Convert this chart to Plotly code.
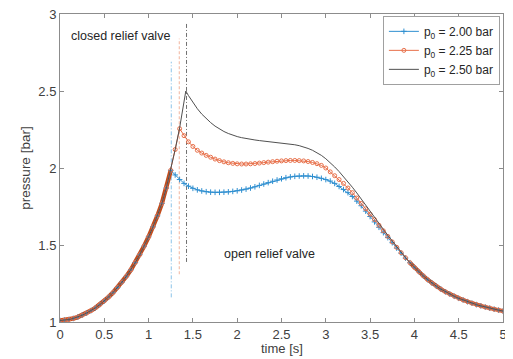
import plotly.graph_objects as go

# ---- data ----
t_rise = [0.00, 0.05, 0.10, 0.15, 0.20, 0.25, 0.30, 0.35, 0.40, 0.45, 0.50, 0.55, 0.60,
          0.65, 0.70, 0.75, 0.80, 0.85, 0.90, 0.95, 1.00, 1.05, 1.10, 1.15, 1.20, 1.25]
p_rise = [1.010, 1.012, 1.016, 1.023, 1.032, 1.044, 1.058, 1.074, 1.092, 1.113, 1.137, 1.163, 1.192,
          1.224, 1.259, 1.297, 1.339, 1.386, 1.437, 1.493, 1.553, 1.618, 1.690, 1.770, 1.870, 1.985]

t_branch = [1.30, 1.35, 1.40, 1.45, 1.50, 1.55, 1.60, 1.65, 1.70, 1.75, 1.80, 1.85, 1.90, 1.95,
            2.00, 2.05, 2.10, 2.15, 2.20, 2.25, 2.30, 2.35, 2.40, 2.45, 2.50, 2.55, 2.60, 2.65,
            2.70, 2.75, 2.80, 2.85, 2.90, 2.95, 3.00, 3.05, 3.10, 3.15, 3.20, 3.25, 3.30, 3.35,
            3.40, 3.45, 3.50, 3.55, 3.60, 3.65, 3.70, 3.75, 3.80, 3.85, 3.90]

p_blue = [1.955, 1.925, 1.900, 1.882, 1.868, 1.858, 1.851, 1.846, 1.843, 1.842, 1.842, 1.843, 1.845, 1.848,
          1.852, 1.857, 1.863, 1.870, 1.878, 1.887, 1.896, 1.905, 1.914, 1.922, 1.930, 1.937, 1.942, 1.946,
          1.948, 1.949, 1.948, 1.945, 1.940, 1.933, 1.925, 1.915, 1.900, 1.880, 1.860, 1.840, 1.815, 1.785,
          1.755, 1.720, 1.685, 1.650, 1.615, 1.580, 1.548, 1.515, 1.480, 1.447, 1.415]

p_orange = [2.120, 2.255, 2.210, 2.170, 2.140, 2.115, 2.097, 2.082, 2.070, 2.058, 2.048, 2.040, 2.034, 2.030,
            2.027, 2.026, 2.026, 2.027, 2.029, 2.032, 2.035, 2.038, 2.041, 2.044, 2.046, 2.048, 2.049, 2.049,
            2.048, 2.046, 2.042, 2.036, 2.028, 2.017, 2.000, 1.975, 1.950, 1.925, 1.900, 1.870, 1.840, 1.805,
            1.770, 1.735, 1.700, 1.665, 1.628, 1.592, 1.556, 1.520, 1.485, 1.450, 1.417]

t_black = [1.30, 1.35, 1.40, 1.42, 1.45, 1.50, 1.55, 1.60, 1.65, 1.70, 1.75, 1.80, 1.85, 1.90, 1.95,
           2.00, 2.05, 2.10, 2.15, 2.20, 2.25, 2.30, 2.35, 2.40, 2.45, 2.50, 2.55, 2.60, 2.65,
           2.70, 2.75, 2.80, 2.85, 2.90, 2.95, 3.00, 3.05, 3.10, 3.15, 3.20, 3.25, 3.30, 3.35,
           3.40, 3.45, 3.50, 3.55, 3.60, 3.65, 3.70, 3.75, 3.80, 3.85, 3.90]
p_black = [2.120, 2.260, 2.430, 2.500, 2.470, 2.425, 2.385, 2.350, 2.320, 2.295, 2.272, 2.253, 2.237, 2.224, 2.213,
           2.204, 2.197, 2.191, 2.186, 2.182, 2.178, 2.175, 2.172, 2.169, 2.166, 2.163, 2.160, 2.156, 2.151,
           2.145, 2.137, 2.127, 2.115, 2.100, 2.082, 2.060, 2.035, 2.007, 1.977, 1.945, 1.910, 1.875, 1.838,
           1.800, 1.762, 1.722, 1.682, 1.642, 1.602, 1.563, 1.525, 1.488, 1.452, 1.418]

t_tail = [3.95, 4.00, 4.05, 4.10, 4.15, 4.20, 4.25, 4.30, 4.35, 4.40, 4.45, 4.50, 4.55, 4.60,
          4.65, 4.70, 4.75, 4.80, 4.85, 4.90, 4.95, 5.00]
p_tail = [1.385, 1.355, 1.327, 1.300, 1.275, 1.252, 1.232, 1.213, 1.196, 1.181, 1.167, 1.154, 1.143, 1.132,
          1.122, 1.113, 1.105, 1.097, 1.090, 1.083, 1.077, 1.071]

series_names = ["p<sub>0</sub> = 2.00 bar", "p<sub>0</sub> = 2.25 bar", "p<sub>0</sub> = 2.50 bar"]

valve_t = [1.256, 1.346, 1.428]
valve_lo = [1.16, 1.31, 1.39]
valve_hi = [2.69, 2.84, 2.94]

# ---- figure ----
BLUE = "#2f8fd0"
ORANGE = "#e8704a"
BLACK = "#505050"
SHARED = "#c24c1c"

fig = go.Figure()

# relief-valve opening markers
vl_colors = ["#8cc3e8", "#f2b49c", "#707070"]
vl_dash = ["4px,2px,1px,2px", "3px,2px", "4px,2px,1px,2px"]
for i in range(3):
    fig.add_trace(go.Scatter(x=[valve_t[i], valve_t[i]], y=[valve_lo[i], valve_hi[i]], mode="lines",
                             line=dict(color=vl_colors[i], width=1, dash=vl_dash[i]),
                             showlegend=False, hoverinfo="skip"))

# shared part of all three curves (dense overlapping markers look like a thick line)
fig.add_trace(go.Scatter(x=t_rise, y=p_rise, mode="lines", line=dict(color=SHARED, width=4.5),
                         showlegend=False, hoverinfo="skip"))
fig.add_trace(go.Scatter(x=t_tail, y=p_tail, mode="lines", line=dict(color=SHARED, width=4),
                         showlegend=False, hoverinfo="skip"))

fig.add_trace(go.Scatter(x=t_rise + t_branch + t_tail, y=p_rise + p_blue + p_tail,
                         mode="lines+markers", name=series_names[0],
                         line=dict(color=BLUE, width=1),
                         marker=dict(symbol="cross-thin", size=4, line=dict(color=BLUE, width=1))))
fig.add_trace(go.Scatter(x=t_rise + t_branch + t_tail, y=p_rise + p_orange + p_tail,
                         mode="lines+markers", name=series_names[1],
                         line=dict(color=ORANGE, width=1),
                         marker=dict(symbol="circle-open", size=4, color=ORANGE, line=dict(color=ORANGE, width=1))))
fig.add_trace(go.Scatter(x=t_rise + t_black + t_tail, y=p_rise + p_black + p_tail,
                         mode="lines", name=series_names[2],
                         line=dict(color=BLACK, width=1)))

fig.add_annotation(x=0.1, y=2.855, text="closed relief valve", showarrow=False,
                   xanchor="left", yanchor="middle", font=dict(size=12.5, color="#262626"))
fig.add_annotation(x=1.83, y=1.44, text="open relief valve", showarrow=False,
                   xanchor="left", yanchor="middle", font=dict(size=12.5, color="#262626"))
# x-axis title placed as an annotation for exact spacing
fig.add_annotation(x=0.5, y=0, xref="paper", yref="paper", yshift=-26, text="time [s]",
                   showarrow=False, xanchor="center", yanchor="middle",
                   font=dict(size=13, color="#404040"))

axis_common = dict(showgrid=False, zeroline=False, showline=True, linecolor="#8c8c8c", linewidth=1,
                   mirror="ticks", ticks="inside", ticklen=4, tickcolor="#8c8c8c", automargin=False,
                   ticklabeloverflow="allow", tickfont=dict(size=13, color="#404040"))

# the page body adds an 8px offset, so the figure is 8px smaller and margins compensate
fig.update_layout(
    width=505, height=351,
    margin=dict(l=52, r=10, t=6, b=37),
    paper_bgcolor="white", plot_bgcolor="white",
    font=dict(family="Liberation Sans, Arial, sans-serif", color="#404040"),
    xaxis=dict(range=[0, 5], dtick=0.5, tick0=0, **axis_common),
    yaxis=dict(range=[1, 3], dtick=0.5, tick0=1,
               title=dict(text="pressure [bar]", font=dict(size=13.5, color="#404040"), standoff=4),
               **axis_common),
    legend=dict(x=0.993, y=0.994, xanchor="right", yanchor="top",
                bgcolor="white", bordercolor="#a0a0a0", borderwidth=1,
                font=dict(size=12, color="#262626"), tracegroupgap=0,
                itemwidth=30),
)

fig.write_html("out.html")
